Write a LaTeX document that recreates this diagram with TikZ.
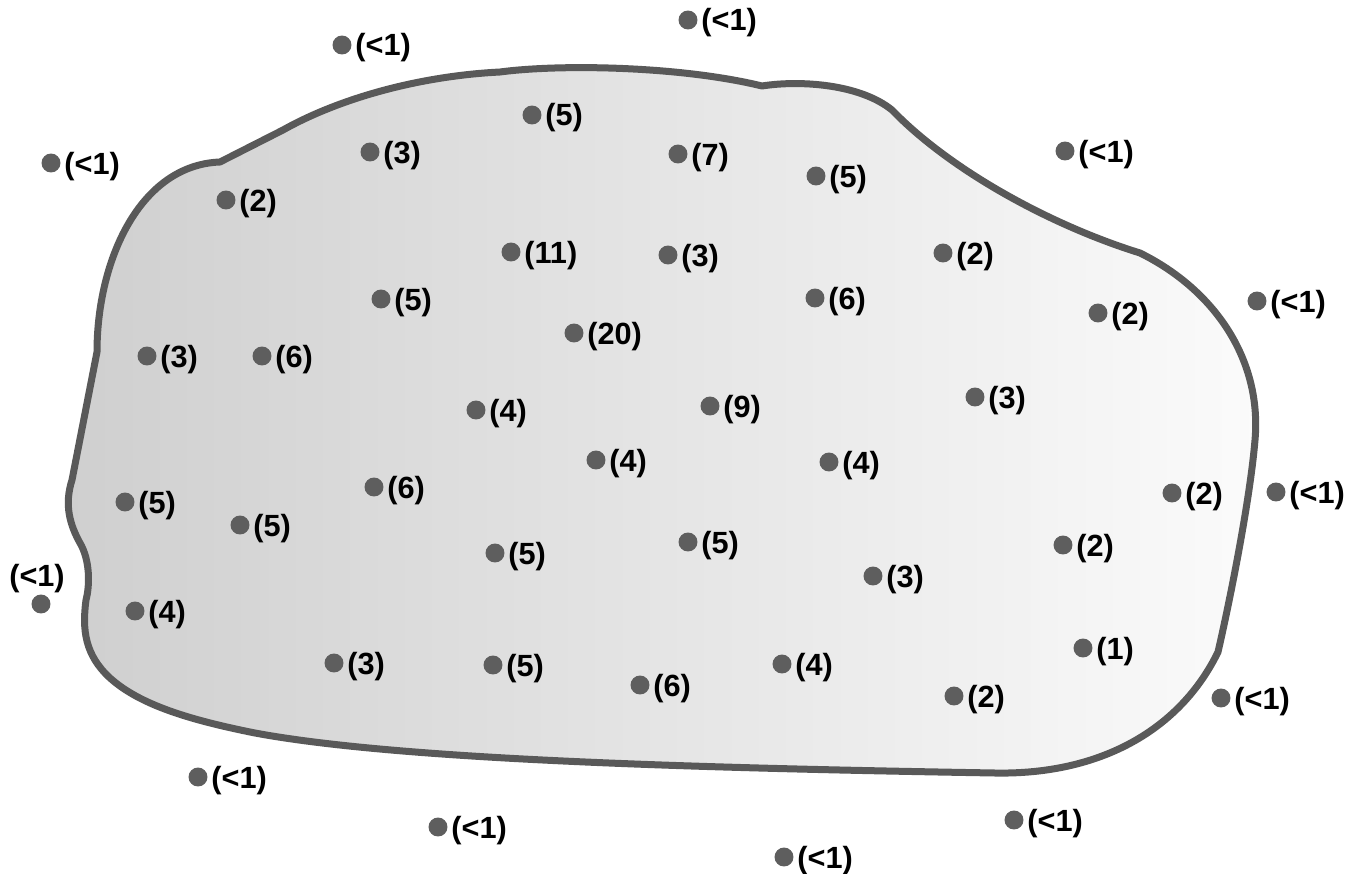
\documentclass[tikz,border=0pt]{standalone}
\usepackage{fontspec}
\setmainfont{Liberation Sans}
\usetikzlibrary{positioning}

\definecolor{blobEdge}{RGB}{89,89,89}
\definecolor{blobLeft}{RGB}{207,207,207}
\definecolor{blobRight}{RGB}{251,251,251}
\definecolor{dotGray}{RGB}{94,94,94}

\tikzset{every picture/.style={line width=0.75pt}}
\tikzset{
site/.style={circle, fill=dotGray, inner sep=0pt, minimum size=14.2pt},
count/.style={inner sep=0pt, font=\fontsize{23}{27}\selectfont\bfseries, text height=16.5pt, text depth=0pt},
count right/.style={count, right=2.2pt of #1},
count above/.style={count, above=5pt of #1, xshift=-3pt}
}

\begin{document}
\begin{tikzpicture}[x=0.75pt,y=0.75pt,yscale=-1,xscale=1]
\useasboundingbox (0,0) rectangle (1364,874);

%Shape: Free Form [id:blob]
\draw [draw=blobEdge, line width=5.25pt, line join=round, left color=blobLeft, right color=blobRight]
  (220,162) -- (283,130)
  .. controls (340,98) and (420,76) .. (500,72)
  .. controls (560,64) and (680,66) .. (762,86)
  .. controls (800,80) and (860,84) .. (892,110)
  .. controls (950,170) and (1050,225) .. (1140,253)
  .. controls (1215,290) and (1262,360) .. (1255,440)
  .. controls (1250,500) and (1230,600) .. (1218,652)
  .. controls (1180,730) and (1100,775) .. (995,773)
  .. controls (700,768) and (400,760) .. (255,733)
  .. controls (190,720) and (140,705) .. (110,678)
  .. controls (85,655) and (82,630) .. (86,600)
  .. controls (90,585) and (90,560) .. (80,543)
  .. controls (70,525) and (64,505) .. (72,480)
  -- (97,352)
  .. controls (97,260) and (140,165) .. cycle;

%Sites outside the outline
\node [site] (o1) at (342,45) {};
\node [count right=o1] (c-o1) {(<1)};
\node [site] (o2) at (688,20) {};
\node [count right=o2] (c-o2) {(<1)};
\node [site] (o3) at (51,163) {};
\node [count right=o3] (c-o3) {(<1)};
\node [site] (o4) at (1065,151) {};
\node [count right=o4] (c-o4) {(<1)};
\node [site] (o5) at (1257,301) {};
\node [count right=o5] (c-o5) {(<1)};
\node [site] (o6) at (1276,492) {};
\node [count right=o6] (c-o6) {(<1)};
\node [site] (o7) at (1221,698) {};
\node [count right=o7] (c-o7) {(<1)};
\node [site] (o8) at (1014,820) {};
\node [count right=o8] (c-o8) {(<1)};
\node [site] (o9) at (784,857) {};
\node [count right=o9] (c-o9) {(<1)};
\node [site] (o10) at (438,827) {};
\node [count right=o10] (c-o10) {(<1)};
\node [site] (o11) at (198,777) {};
\node [count right=o11] (c-o11) {(<1)};
\node [site] (o12) at (41,604) {};
\node [count above=o12] (c-o12) {(<1)};

%Sites inside the outline
\node [site] (i1) at (532,115) {};
\node [count right=i1] (c-i1) {(5)};
\node [site] (i2) at (370,152) {};
\node [count right=i2] (c-i2) {(3)};
\node [site] (i3) at (678,154) {};
\node [count right=i3] (c-i3) {(7)};
\node [site] (i4) at (816,176) {};
\node [count right=i4] (c-i4) {(5)};
\node [site] (i5) at (226,200) {};
\node [count right=i5] (c-i5) {(2)};
\node [site] (i6) at (511,252) {};
\node [count right=i6] (c-i6) {(11)};
\node [site] (i7) at (668,255) {};
\node [count right=i7] (c-i7) {(3)};
\node [site] (i8) at (943,253) {};
\node [count right=i8] (c-i8) {(2)};
\node [site] (i9) at (381,299) {};
\node [count right=i9] (c-i9) {(5)};
\node [site] (i10) at (815,298) {};
\node [count right=i10] (c-i10) {(6)};
\node [site] (i11) at (1098,313) {};
\node [count right=i11] (c-i11) {(2)};
\node [site] (i12) at (574,333) {};
\node [count right=i12] (c-i12) {(20)};
\node [site] (i13) at (147,356) {};
\node [count right=i13] (c-i13) {(3)};
\node [site] (i14) at (262,356) {};
\node [count right=i14] (c-i14) {(6)};
\node [site] (i15) at (476,410) {};
\node [count right=i15] (c-i15) {(4)};
\node [site] (i16) at (710,406) {};
\node [count right=i16] (c-i16) {(9)};
\node [site] (i17) at (975,397) {};
\node [count right=i17] (c-i17) {(3)};
\node [site] (i18) at (596,460) {};
\node [count right=i18] (c-i18) {(4)};
\node [site] (i19) at (829,462) {};
\node [count right=i19] (c-i19) {(4)};
\node [site] (i20) at (374,487) {};
\node [count right=i20] (c-i20) {(6)};
\node [site] (i21) at (125,502) {};
\node [count right=i21] (c-i21) {(5)};
\node [site] (i22) at (240,525) {};
\node [count right=i22] (c-i22) {(5)};
\node [site] (i23) at (1172,493) {};
\node [count right=i23] (c-i23) {(2)};
\node [site] (i24) at (495,553) {};
\node [count right=i24] (c-i24) {(5)};
\node [site] (i25) at (688,542) {};
\node [count right=i25] (c-i25) {(5)};
\node [site] (i26) at (1063,545) {};
\node [count right=i26] (c-i26) {(2)};
\node [site] (i27) at (873,576) {};
\node [count right=i27] (c-i27) {(3)};
\node [site] (i28) at (135,611) {};
\node [count right=i28] (c-i28) {(4)};
\node [site] (i29) at (1083,648) {};
\node [count right=i29] (c-i29) {(1)};
\node [site] (i30) at (334,663) {};
\node [count right=i30] (c-i30) {(3)};
\node [site] (i31) at (493,665) {};
\node [count right=i31] (c-i31) {(5)};
\node [site] (i32) at (640,685) {};
\node [count right=i32] (c-i32) {(6)};
\node [site] (i33) at (782,664) {};
\node [count right=i33] (c-i33) {(4)};
\node [site] (i34) at (954,696) {};
\node [count right=i34] (c-i34) {(2)};

\end{tikzpicture}
\end{document}
